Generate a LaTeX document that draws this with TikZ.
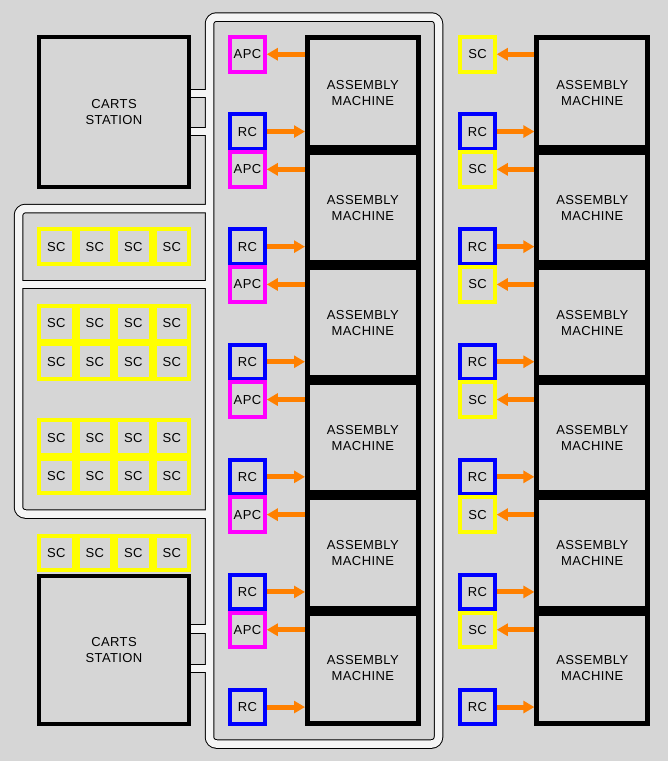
\documentclass[tikz,border=0pt]{standalone}
\usepackage{fontspec}
\setmainfont{Liberation Sans}[LetterSpace=3]
\usetikzlibrary{arrows.meta}
\definecolor{bg}{RGB}{214,214,214}
\definecolor{strip}{RGB}{245,245,245}
\definecolor{orng}{RGB}{255,128,0}
\definecolor{mag}{RGB}{255,0,255}
\definecolor{blu}{RGB}{0,0,255}
\definecolor{yel}{RGB}{255,255,0}
\newcommand\roadnet[1]{%
  \draw[#1, rounded corners=7pt] (209.5,17) rectangle (438.5,744);
  \draw[#1, rounded corners=7pt] (209.5,208.5) -- (18.5,208.5) -- (18.5,514) -- (209.5,514);
  \draw[#1] (18.5,284.5) -- (209.5,284.5);
  \draw[#1] (185,93.3) -- (209.5,93.3);
  \draw[#1] (185,131.7) -- (209.5,131.7);
  \draw[#1] (185,629) -- (209.5,629);
  \draw[#1] (185,668.5) -- (209.5,668.5);
}
\begin{document}
\begin{tikzpicture}[x=1pt,y=-1pt,
  font=\fontsize{13}{16}\selectfont,
  cell/.style={draw, line width=4pt, fill=bg, minimum width=34.5pt, minimum height=34.5pt, inner sep=0pt},
  apcbox/.style={cell, draw=mag},
  rcbox/.style={cell, draw=blu},
  scbox/.style={cell, draw=yel},
  machine/.style={draw=black, line width=5pt, fill=bg, minimum width=110.7pt, minimum height=110.1pt, inner sep=0pt, align=center},
  station/.style={draw=black, line width=4pt, fill=bg, minimum width=150pt, align=center, inner sep=0pt},
  arr/.style={orng, line width=5pt, -{Triangle[length=11pt,width=12pt]}},
  road/.style={line width=9.5pt, black},
  roadin/.style={line width=7.5pt, strip},
]
\useasboundingbox (0,0) rectangle (668,761);
\fill[bg] (0,0) rectangle (668,761);

\roadnet{road}
\roadnet{roadin}

% carts stations
\node[station, minimum height=150pt] (cs1) at (114,112) {CARTS\\STATION};
\node[station, minimum height=148pt] (cs2) at (114,650) {CARTS\\STATION};

% SC grid on the left
\foreach \r/\t in {1/227.3, 2/304, 3/342.4, 4/418.3, 5/456.7, 6/533.5} {
  \foreach \c in {0,1,2,3} {
    \node[scbox] (g\r\c) at ({56.25+38.5*\c},{\t+19.25}) {SC};
  }
}

% machines and controllers
\foreach \k in {0,...,5} {
  \node[machine] (m\k) at (362.85,{92.55+115.1*\k}) {ASSEMBLY\\MACHINE};
  \node[machine] (r\k) at (592.25,{92.55+115.1*\k}) {ASSEMBLY\\MACHINE};
  \node[apcbox] (apc\k) at (247.5,{54.25+115.1*\k}) {APC};
  \node[rcbox] (rc\k) at (247.5,{131.55+115.1*\k}) {RC};
  \node[scbox] (rsc\k) at (477.5,{54.25+115.1*\k}) {SC};
  \node[rcbox] (rrc\k) at (477.5,{131.55+115.1*\k}) {RC};
  \draw[arr] (m\k.west |- apc\k) -- (apc\k.east);
  \draw[arr] (rc\k.east) -- (rc\k.east -| m\k.west);
  \draw[arr] (r\k.west |- rsc\k) -- (rsc\k.east);
  \draw[arr] (rrc\k.east) -- (rrc\k.east -| r\k.west);
}
\end{tikzpicture}
\end{document}
